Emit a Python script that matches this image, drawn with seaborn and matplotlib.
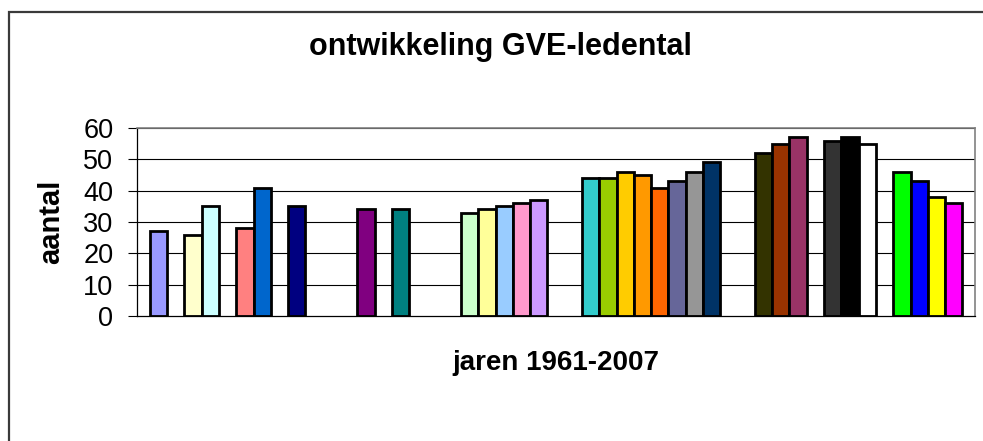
import matplotlib
matplotlib.use("Agg")
import matplotlib.pyplot as plt
from matplotlib.patches import Rectangle
import pandas as pd
import seaborn as sns

# all years on the category axis
years = [str(y) for y in range(1961, 2008)]

# years that have a value, with member count and bar colour
bar_years = ["1961", "1963", "1964", "1966", "1967", "1969", "1973", "1975",
             "1979", "1980", "1981", "1982", "1983",
             "1986", "1987", "1988", "1989", "1990", "1991", "1992", "1993",
             "1996", "1997", "1998", "2000", "2001", "2002",
             "2004", "2005", "2006", "2007"]
members = [27, 26, 35, 28, 41, 35, 34, 34,
           33, 34, 35, 36, 37,
           44, 44, 46, 45, 41, 43, 46, 49,
           52, 55, 57, 56, 57, 55,
           46, 43, 38, 36]
bar_colors = ["#9999FF", "#FFFFCC", "#CCFFFF", "#FF8080", "#0066CC", "#000080", "#800080", "#008080",
              "#CCFFCC", "#FFFF99", "#99CCFF", "#FF99CC", "#CC99FF",
              "#33CCCC", "#99CC00", "#FFCC00", "#FF9900", "#FF6600", "#666699", "#969696", "#003366",
              "#333300", "#993300", "#993366", "#333333", "#000000", "#FFFFFF",
              "#00FF00", "#0000FF", "#FFFF00", "#FF00FF"]

y_ticks = [0, 10, 20, 30, 40, 50, 60]

df = pd.DataFrame({"jaar": bar_years, "aantal": members})
palette = dict(zip(bar_years, bar_colors))

sns.set_style("white")
plt.rcParams["font.family"] = ["Liberation Sans", "DejaVu Sans"]
plt.rcParams["text.color"] = "black"
plt.rcParams["axes.labelcolor"] = "black"
plt.rcParams["ytick.color"] = "black"
plt.rcParams["ytick.labelcolor"] = "black"

fig = plt.figure(figsize=(9.83, 4.41), dpi=100)
ax = fig.add_axes([137 / 983, 125 / 441, 838 / 983, 188 / 441])

# grid lines behind the bars
for v in y_ticks[1:]:
    ax.axhline(v, color="black", linewidth=0.8, zorder=0)

sns.barplot(data=df, x="jaar", y="aantal", hue="jaar", order=years, hue_order=bar_years,
            palette=palette, width=1.0, dodge=False, legend=False,
            edgecolor="black", linewidth=2.0, saturation=1, ax=ax, zorder=2)

ax.set_xlim(-1.24, 47.23)
ax.set_ylim(0, 60)
ax.set_yticks(y_ticks)
ax.tick_params(axis="y", labelsize=19.5, length=6.5, width=0.8, color="black", pad=10.5, left=True)
ax.tick_params(axis="x", bottom=False, labelbottom=False)

for side in ["left", "bottom"]:
    ax.spines[side].set_color("black")
    ax.spines[side].set_linewidth(0.9)
for side in ["right", "top"]:
    ax.spines[side].set_visible(True)
    ax.spines[side].set_color("#808080")
    ax.spines[side].set_linewidth(1.2)

ax.set_ylabel("aantal", fontsize=21, fontweight="bold")
ax.yaxis.set_label_coords((51 - 137) / 838, 0.5)
ax.yaxis.label.set_verticalalignment("center")

ax.set_xlabel("jaren 1961-2007", fontsize=20, fontweight="bold")
ax.xaxis.set_label_coords(0.5, (316 - 363) / 188)
ax.xaxis.label.set_verticalalignment("center")

fig.text(500 / 983, 1 - 47 / 441, "ontwikkeling GVE-ledental", fontsize=22,
         fontweight="bold", ha="center", va="center")

# chart area border (runs off the right and bottom edges)
fig.patches.append(Rectangle((9 / 983, -0.1), 1.2, 1.1 - 12 / 441, transform=fig.transFigure,
                             fill=False, edgecolor="#3a3a3a", linewidth=1.6))

fig.savefig("out.png", dpi=100)
